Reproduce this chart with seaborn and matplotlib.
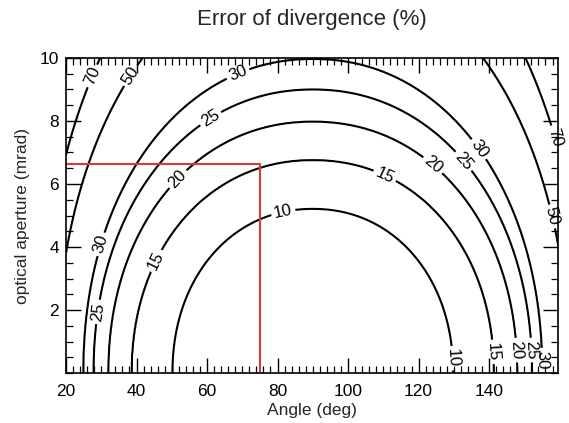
import numpy as np
import matplotlib
matplotlib.use("Agg")
import matplotlib.pyplot as plt
from matplotlib.ticker import MultipleLocator, FixedLocator
import seaborn as sns

# ---- data ----
title = "Error of divergence (%)"
x_label = "Angle (deg)"
y_label = "optical aperture (mrad)"
levels = [10, 15, 20, 25, 30, 50, 70]
# each iso-error curve is a (super)ellipse centred on the angle below
half_width = [39.8, 51.4, 58.0, 62.2, 65.1, 72.7, 77.3]   # deg from centre at aperture 0
height = [5.21, 6.76, 7.98, 9.0, 9.97, 13.0, 15.36]       # mrad at the centre angle
center_angle = 90.0
shape_exp = 2.1
marker_angle = 75.0
marker_aperture = 6.65
x_range = (20.0, 159.6)
y_range = (0.0, 10.0)
x_ticks = [20, 40, 60, 80, 100, 120, 140]
y_ticks = [2, 4, 6, 8, 10]

# ---- style ----
sns.set_style("ticks")
plt.rcParams['font.family'] = ['Liberation Sans', 'DejaVu Sans']
plt.rcParams.update({
    'xtick.direction': 'in', 'ytick.direction': 'in',
    'xtick.top': True, 'ytick.right': True,
    'xtick.bottom': True, 'ytick.left': True,
    'xtick.minor.visible': True, 'ytick.minor.visible': True,
    'xtick.major.size': 10.5, 'ytick.major.size': 10.5,
    'xtick.minor.size': 5, 'ytick.minor.size': 5,
    'xtick.major.width': 1.0, 'ytick.major.width': 1.0,
    'xtick.minor.width': 0.9, 'ytick.minor.width': 0.9,
    'xtick.color': 'black', 'ytick.color': 'black',
})

fig = plt.figure(figsize=(5.69, 4.23), dpi=100)
ax = fig.add_axes([0.116, 0.118, 0.865, 0.745])

# ---- build the field from the read curves ----
xg = np.linspace(x_range[0], 160, 561)
yg = np.linspace(y_range[0], y_range[1], 401)
X, Y = np.meshgrid(xg, yg)
lv = np.array(levels, float)
W = np.array(half_width)[:, None, None]
H = np.array(height)[:, None, None]
S = ((np.abs(X - center_angle) / W) ** shape_exp + (Y / H) ** shape_exp) ** (1 / shape_exp)
Z = np.full(X.shape, np.nan)
with np.errstate(divide='ignore', invalid='ignore'):
    for k in range(len(levels) - 1):
        s0, s1 = S[k], S[k + 1]
        t = (s0 - 1) / (s0 - s1)
        val = lv[k] + t * (lv[k + 1] - lv[k])
        mask = (s0 >= 1) & (s1 <= 1) & np.isnan(Z)
        Z = np.where(mask, val, Z)
    t = (S[0] - 1) / (S[0] - S[1])
    Z = np.where(S[0] < 1, lv[0] + t * (lv[1] - lv[0]), Z)
    t = (S[-2] - 1) / (S[-2] - S[-1])
    Z = np.where(S[-1] > 1, lv[-2] + t * (lv[-1] - lv[-2]), Z)
Z = np.nan_to_num(Z, nan=0.0)

cs = ax.contour(X, Y, Z, levels=levels, colors='black', linewidths=1.5)

label_pos = [(27.9, 9.41), (38.7, 9.41), (68.9, 9.46), (61.3, 8.03), (51.5, 6.18),
             (81.6, 5.12), (44.4, 3.64), (28.8, 4.12), (28.3, 1.95), (110.5, 6.29),
             (123.7, 6.55), (132.6, 6.71), (137.4, 7.13), (157.6, 7.45), (157.6, 4.96),
             (129.4, 0.47), (141.7, 0.68), (148.3, 0.73), (151.6, 0.73), (155.4, 0.41)]
labels = ax.clabel(cs, fmt='%d', fontsize=12, manual=label_pos, inline=True, inline_spacing=3)
for t_ in labels:
    t_.set_clip_on(False)

# ---- red marker lines ----
sns.lineplot(x=[x_range[0], marker_angle, marker_angle],
             y=[marker_aperture, marker_aperture, y_range[0]],
             sort=False, estimator=None, color='#d93a35', linewidth=1.5, ax=ax)

ax.set_xlim(*x_range)
ax.set_ylim(*y_range)
ax.xaxis.set_major_locator(FixedLocator(x_ticks))
ax.yaxis.set_major_locator(FixedLocator(y_ticks))
ax.xaxis.set_minor_locator(MultipleLocator(2))
ax.yaxis.set_minor_locator(MultipleLocator(0.5))
ax.tick_params(which='both', direction='in', bottom=True, left=True, top=True, right=True,
               color='black', labelcolor='black')
ax.tick_params(which='major', length=10.5, width=1.0, labelsize=12.5)
ax.tick_params(axis='x', which='major', pad=8)
ax.tick_params(axis='y', which='major', pad=5)
ax.tick_params(which='minor', length=5, width=0.9)
ax.set_axisbelow(False)
for sp in ax.spines.values():
    sp.set_visible(True)
    sp.set_linewidth(1.2)
    sp.set_color('black')

ax.set_xlabel(x_label, fontsize=12.5, labelpad=3)
ax.set_ylabel(y_label, fontsize=12.5, labelpad=7)
ax.set_title(title, fontsize=16, pad=24)

fig.savefig("out.png", dpi=100)
